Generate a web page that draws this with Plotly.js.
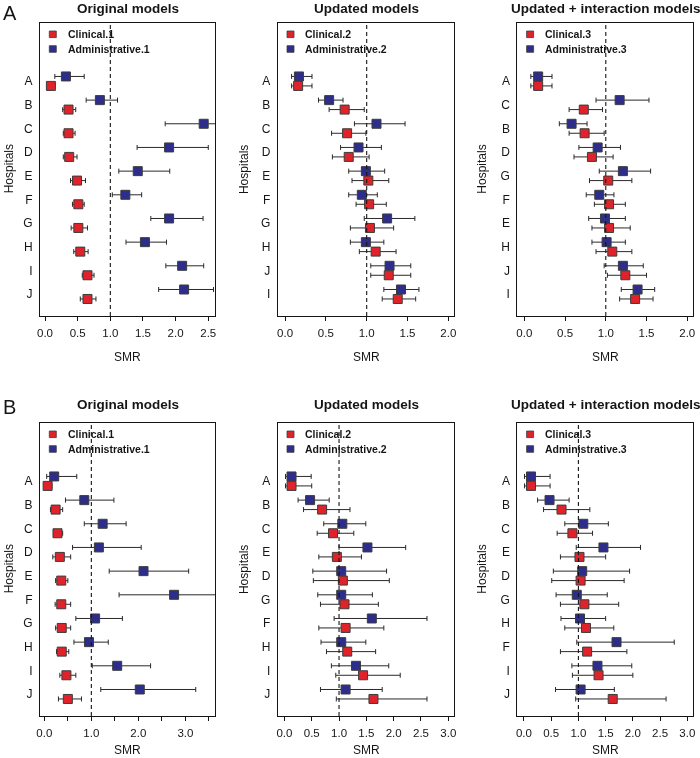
<!DOCTYPE html>
<html><head><meta charset="utf-8">
<script src="https://cdn.plot.ly/plotly-3.0.1.min.js"></script>
<style>html,body{margin:0;padding:0;background:#fff}#chart{width:700px;height:758px}
.main-svg{will-change:transform}</style>
</head><body><div id="chart"></div>
<script>
// ---------- DATA ----------
const panelTitles = ['Original models', 'Updated models', 'Updated + interaction models'];
const rowLetters = ['A', 'B'];

// Row A
const hospA1 = ['A','B','C','D','E','F','G','H','I','J'];
const clinA1   = [0.09,0.36,0.36,0.37,0.49,0.51,0.51,0.54,0.65,0.65];
const clinA1Lo = [0.04,0.27,0.28,0.28,0.39,0.42,0.40,0.44,0.57,0.54];
const clinA1Hi = [0.15,0.47,0.46,0.49,0.62,0.60,0.65,0.66,0.75,0.78];
const admA1    = [0.32,0.84,2.43,1.90,1.42,1.23,1.90,1.53,2.10,2.13];
const admA1Lo  = [0.15,0.63,1.84,1.41,1.13,1.03,1.62,1.24,1.85,1.74];
const admA1Hi  = [0.60,1.11,2.95,2.50,1.91,1.48,2.42,1.86,2.43,2.58];

const hospA2 = ['A','B','C','D','E','F','G','H','J','I'];
const clinA2   = [0.16,0.73,0.76,0.78,1.02,1.03,1.04,1.11,1.27,1.38];
const clinA2Lo = [0.08,0.54,0.57,0.58,0.82,0.87,0.80,0.91,1.05,1.19];
const clinA2Hi = [0.33,0.97,0.99,1.03,1.27,1.24,1.33,1.36,1.54,1.60];
const admA2    = [0.17,0.54,1.12,0.90,0.99,0.94,1.25,0.99,1.28,1.42];
const admA2Lo  = [0.08,0.41,0.85,0.68,0.78,0.78,0.97,0.80,1.05,1.21];
const admA2Hi  = [0.33,0.71,1.47,1.18,1.22,1.13,1.59,1.21,1.54,1.64];

const hospA3 = ['A','C','B','D','G','F','E','H','J','I'];
const clinA3   = [0.17,0.73,0.74,0.83,1.03,1.04,1.04,1.08,1.24,1.36];
const clinA3Lo = [0.08,0.55,0.55,0.61,0.80,0.86,0.83,0.88,1.02,1.17];
const clinA3Hi = [0.34,0.96,0.98,1.09,1.32,1.24,1.30,1.32,1.50,1.58];
const admA3    = [0.17,1.17,0.58,0.90,1.21,0.92,0.99,1.01,1.21,1.39];
const admA3Lo  = [0.08,0.88,0.43,0.67,0.92,0.76,0.79,0.83,0.98,1.19];
const admA3Hi  = [0.34,1.53,0.77,1.18,1.55,1.10,1.24,1.24,1.46,1.60];

// Row B
const hospB1 = ['A','B','C','D','E','F','G','H','I','J'];
const clinB1   = [0.07,0.24,0.28,0.33,0.36,0.36,0.37,0.37,0.47,0.50];
const clinB1Lo = [0.01,0.13,0.21,0.18,0.24,0.23,0.24,0.26,0.33,0.30];
const clinB1Hi = [0.16,0.39,0.39,0.56,0.50,0.56,0.56,0.52,0.67,0.79];
const admB1    = [0.21,0.85,1.24,1.16,2.11,2.76,1.08,0.95,1.55,2.03];
const admB1Lo  = [0.05,0.45,0.85,0.60,1.38,1.59,0.67,0.63,1.02,1.20];
const admB1Hi  = [0.69,1.48,1.74,2.06,3.07,4.30,1.66,1.36,2.26,3.22];

const hospB2 = ['A','B','C','E','D','G','F','H','I','J'];
const clinB2   = [0.13,0.69,0.89,0.96,1.07,1.10,1.12,1.15,1.44,1.63];
const clinB2Lo = [0.02,0.35,0.60,0.63,0.53,0.66,0.63,0.77,0.94,0.95];
const clinB2Hi = [0.50,1.20,1.27,1.41,1.92,1.72,1.82,1.67,2.12,2.61];
const admB2    = [0.13,0.47,1.06,1.52,1.04,1.04,1.60,1.04,1.31,1.12];
const admB2Lo  = [0.02,0.25,0.72,1.00,0.52,0.61,0.91,0.67,0.86,0.66];
const admB2Hi  = [0.49,0.82,1.49,2.22,1.87,1.61,2.61,1.49,1.91,1.79];

const hospB3 = ['A','B','C','E','D','G','H','F','I','J'];
const clinB3   = [0.13,0.69,0.89,1.02,1.04,1.11,1.14,1.16,1.37,1.63];
const clinB3Lo = [0.01,0.36,0.61,0.67,0.51,0.67,0.75,0.67,0.89,0.95];
const clinB3Hi = [0.48,1.21,1.26,1.50,1.84,1.74,1.65,1.89,2.00,2.61];
const admB3    = [0.13,0.47,1.09,1.46,1.07,0.97,1.03,1.70,1.35,1.04];
const admB3Lo  = [0.01,0.25,0.75,0.96,0.54,0.59,0.68,0.97,0.88,0.58];
const admB3Hi  = [0.48,0.83,1.55,2.14,1.94,1.53,1.50,2.76,1.98,1.66];

// Tick values / labels
const tickValsA1 = [0,0.5,1,1.5,2,2.5];
const tickTextA1 = ['0.0','0.5','1.0','1.5','2.0','2.5'];
const tickValsA23 = [0,0.5,1,1.5,2];
const tickTextA23 = ['0.0','0.5','1.0','1.5','2.0'];
const tickValsB1 = [0,0.5,1,1.5,2,2.5,3,3.5];
const tickTextB1 = ['0.0','','1.0','','2.0','','3.0',''];
const tickValsB23 = [0,0.5,1,1.5,2,2.5,3];
const tickTextB23 = ['0.0','0.5','1.0','1.5','2.0','2.5','3.0'];

// ---------- BUILD ----------
const FONT = '"Liberation Sans", Arial, Helvetica, sans-serif';
const RED = '#e0232a', BLUE = '#2d2e8c', INK = '#151515';
const W = 700, H = 758;
const xDom = [[40/W, 215/W], [277.7/W, 454.3/W], [517.3/W, 693.3/W]];
const rowPx = [[22.7, 316], [422.7, 716]];
const yDom = rowPx.map(r => [1 - r[1]/H, 1 - r[0]/H]);
const titleY = [8, 404], smrY = [357, 749.5];
const hospOff = [-31, -33, -35];

const panels = [
  {row:0,col:0,hosp:hospA1,c:clinA1,cl:clinA1Lo,ch:clinA1Hi,a:admA1,al:admA1Lo,ah:admA1Hi,xr:[-0.077,2.603],tv:tickValsA1,tt:tickTextA1},
  {row:0,col:1,hosp:hospA2,c:clinA2,cl:clinA2Lo,ch:clinA2Hi,a:admA2,al:admA2Lo,ah:admA2Hi,xr:[-0.09,2.073],tv:tickValsA23,tt:tickTextA23},
  {row:0,col:2,hosp:hospA3,c:clinA3,cl:clinA3Lo,ch:clinA3Hi,a:admA3,al:admA3Lo,ah:admA3Hi,xr:[-0.086,2.074],tv:tickValsA23,tt:tickTextA23},
  {row:1,col:0,hosp:hospB1,c:clinB1,cl:clinB1Lo,ch:clinB1Hi,a:admB1,al:admB1Lo,ah:admB1Hi,xr:[-0.092,3.63],tv:tickValsB1,tt:tickTextB1},
  {row:1,col:1,hosp:hospB2,c:clinB2,cl:clinB2Lo,ch:clinB2Hi,a:admB2,al:admB2Lo,ah:admB2Hi,xr:[-0.123,3.11],tv:tickValsB23,tt:tickTextB23},
  {row:1,col:2,hosp:hospB3,c:clinB3,cl:clinB3Lo,ch:clinB3Hi,a:admB3,al:admB3Lo,ah:admB3Hi,xr:[-0.122,3.11],tv:tickValsB23,tt:tickTextB23}
];

const traces = [];
const shapes = [];
const annotations = [];
const layout = {
  width: W, height: H, margin: {l:0,r:0,t:0,b:0},
  paper_bgcolor: '#fff', plot_bgcolor: '#fff',
  showlegend: false, font: {family: FONT, color: INK}
};

function errTrace(vals, lo, hi, ys, color, xa, ya) {
  return {
    type: 'scatter', mode: 'markers', x: vals, y: ys, xaxis: xa, yaxis: ya,
    marker: {symbol: 'square', size: 9, color: color, line: {color: '#3c3c3c', width: 1}},
    error_x: {type: 'data', symmetric: false,
      array: vals.map((v,i) => hi[i] - v), arrayminus: vals.map((v,i) => v - lo[i]),
      color: '#2a2a2a', thickness: 1, width: 2.5},
    hoverinfo: 'skip', showlegend: false, cliponaxis: true
  };
}

panels.forEach((p, k) => {
  const n = k + 1;
  const xa = n === 1 ? 'x' : 'x' + n, ya = n === 1 ? 'y' : 'y' + n;
  const idx = p.hosp.map((_, i) => i);
  const num = n <= 3 ? n : n - 3;
  traces.push(errTrace(p.a, p.al, p.ah, idx.map(i => i - 0.2), BLUE, xa, ya));
  traces.push(errTrace(p.c, p.cl, p.ch, idx.map(i => i + 0.2), RED, xa, ya));

  layout['xaxis' + (n === 1 ? '' : n)] = {
    domain: xDom[p.col], anchor: ya, range: p.xr, tickvals: p.tv, ticktext: p.tt,
    ticks: 'outside', ticklen: 4, tickwidth: 1, tickcolor: INK, ticklabelstandoff: 2,
    showline: true, mirror: true, linecolor: INK, linewidth: 1,
    showgrid: false, zeroline: false, fixedrange: true,
    tickfont: {family: FONT, size: 11.5, color: INK}
  };
  layout['yaxis' + (n === 1 ? '' : n)] = {
    domain: yDom[p.row], anchor: xa, range: [9.92, -2.47], tickvals: idx, ticktext: p.hosp,
    ticks: '', ticklabelstandoff: 4,
    showline: true, mirror: true, linecolor: INK, linewidth: 1,
    showgrid: false, zeroline: false, fixedrange: true,
    tickfont: {family: FONT, size: 12, color: INK}
  };

  // reference line at SMR = 1
  shapes.push({type: 'line', xref: xa, yref: ya + ' domain', x0: 1, x1: 1, y0: 0, y1: 1,
    line: {color: INK, width: 1.1, dash: '4px,3px'}});

  // legend squares + labels
  const legendItems = [['Clinical.' + num, RED, 11.6], ['Administrative.' + num, BLUE, 26.3]];
  legendItems.forEach(([label, col, dy]) => {
    shapes.push({type: 'rect', xref: xa + ' domain', yref: ya + ' domain',
      xsizemode: 'pixel', ysizemode: 'pixel', xanchor: 0, yanchor: 1,
      x0: 9.3, x1: 16.3, y0: -dy - 3.3, y1: -dy + 3.3,
      fillcolor: col, line: {color: '#3c3c3c', width: 0.8}});
    annotations.push({text: '<b>' + label + '</b>', xref: xa + ' domain', yref: ya + ' domain',
      x: 0, y: 1, xanchor: 'left', yanchor: 'middle', xshift: 25.5, yshift: -dy,
      showarrow: false, font: {family: FONT, size: 10.5, color: INK}});
  });

  // panel title
  annotations.push({text: '<b>' + panelTitles[p.col] + '</b>', xref: xa + ' domain', yref: 'paper',
    x: 0.5, y: 1 - titleY[p.row] / H, xanchor: 'center', yanchor: 'middle', showarrow: false,
    font: {family: FONT, size: 13.5, color: INK}});
  // x title
  annotations.push({text: 'SMR', xref: xa + ' domain', yref: 'paper',
    x: 0.5, y: 1 - smrY[p.row] / H, xanchor: 'center', yanchor: 'middle', showarrow: false,
    font: {family: FONT, size: 12, color: INK}});
  // y title
  annotations.push({text: 'Hospitals', xref: xa + ' domain', yref: ya + ' domain',
    x: 0, y: 0.5, xanchor: 'center', yanchor: 'middle', xshift: hospOff[p.col], textangle: -90,
    showarrow: false, font: {family: FONT, size: 12, color: INK}});
});

// Row letters
[[0, 0], [394, 1]].forEach(([py, r]) => {
  annotations.push({text: rowLetters[r], xref: 'paper', yref: 'paper', x: 0, y: 1 - py / H,
    xanchor: 'left', yanchor: 'top', xshift: 1, showarrow: false,
    font: {family: FONT, size: 20, color: INK}});
});

layout.shapes = shapes;
layout.annotations = annotations;

Plotly.newPlot('chart', traces, layout, {staticPlot: true, displayModeBar: false});
</script>
</body></html>
